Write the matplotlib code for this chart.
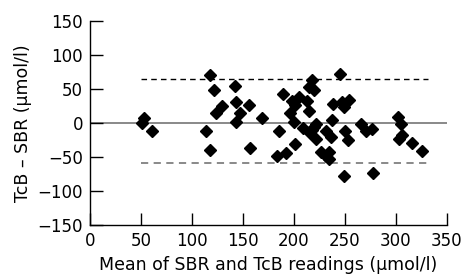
import matplotlib

matplotlib.use("Agg")
import matplotlib.pyplot as plt

# Bland-Altman: mean of SBR and TcB vs difference (umol/l)
mean_vals = [
    51, 53, 61, 114, 118, 118, 122, 124, 129, 142, 143, 143, 147, 156, 157,
    169, 183, 185, 189, 192, 196, 198, 200, 201, 201, 205, 209, 213, 215, 215,
    218, 220, 216, 218, 220, 222, 222, 227, 231, 234, 231, 234, 236, 238, 237,
    245, 247, 249, 250, 249, 253, 254, 266, 271, 277, 278, 302, 303, 305, 306,
    316, 326,
]
diff_vals = [
    0, 8, -12, -12, -39, 70, 48, 15, 25, 54, 31, 2, 15, 26, -37,
    7, -48, -11, 42, -44, 15, 32, 2, 27, -30, 38, -7, 33, 18, 53,
    63, 49, -15, -10, -6, -1, -24, -42, -12, -42, -49, -52, -21, 28, 5,
    72, 31, 23, -11, -77, -25, 34, -1, -11, -8, -73, 9, -24, -2, -17,
    -29, -41,
]
bias = 0
upper_loa = 65
lower_loa = -58

fig = plt.figure(figsize=(4.64, 2.80), dpi=100)
ax = fig.add_axes([0.194, 0.195, 0.769, 0.731])

ax.axhline(bias, color="#808080", lw=1.3, zorder=1)
ax.plot([50, 332], [upper_loa, upper_loa], color="black", lw=1.0,
        dashes=(4, 3), zorder=1)
ax.plot([50, 332], [lower_loa, lower_loa], color="#808080", lw=1.3,
        dashes=(4, 3), zorder=1)

ax.plot(mean_vals, diff_vals, ls="none", marker="D", ms=6.5,
        color="black", zorder=3)

ax.set_xlim(0, 350)
ax.set_ylim(-150, 150)
ax.set_xticks(range(0, 351, 50))
ax.set_yticks(range(-150, 151, 50))
ax.set_yticklabels([str(v).replace("-", "\u2212") for v in range(-150, 151, 50)])

for side in ("top", "right"):
    ax.spines[side].set_visible(False)
for side in ("left", "bottom"):
    ax.spines[side].set_linewidth(1.0)

ax.tick_params(direction="in", length=9, width=1.0, labelsize=12, pad=5)

ax.set_xlabel("Mean of SBR and TcB readings (\u03bcmol/l)", fontsize=12.5, labelpad=4)
ax.set_ylabel("TcB \u2013 SBR (\u03bcmol/l)", fontsize=12.5, labelpad=4)

fig.savefig("out.png", dpi=100, facecolor="white")
